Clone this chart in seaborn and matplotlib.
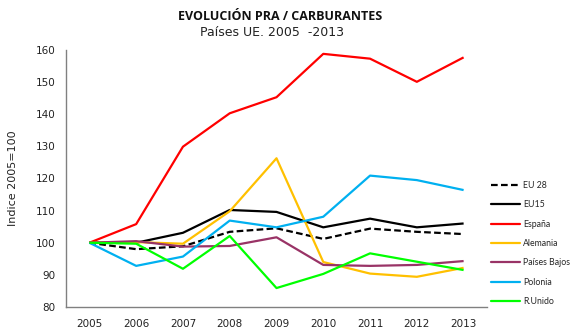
import matplotlib
matplotlib.use("Agg")
import matplotlib.pyplot as plt
import seaborn as sns
import pandas as pd
from matplotlib.lines import Line2D

years = ["2005", "2006", "2007", "2008", "2009", "2010", "2011", "2012", "2013"]

eu28 = [100, 98.0, 98.9, 103.4, 104.5, 101.2, 104.4, 103.4, 102.7]
eu15 = [100, 100.0, 103.1, 110.2, 109.6, 104.8, 107.5, 104.8, 106.0]
espana = [100, 105.8, 129.9, 140.3, 145.3, 158.8, 157.3, 150.1, 157.7]
alemania = [100, 100.2, 99.7, 109.8, 126.3, 94.0, 90.4, 89.4, 92.2]
paises_bajos = [100, 100.5, 98.8, 99.0, 101.7, 93.1, 92.8, 93.1, 94.3]
polonia = [100, 92.8, 95.7, 106.9, 104.8, 108.1, 120.9, 119.5, 116.4]
r_unido = [100, 99.7, 91.9, 102.1, 85.9, 90.3, 96.7, 94.1, 91.5]

series_names = ["EU 28", "EU15", "España", "Alemania", "Países Bajos", "Polonia", "R.Unido"]
series_values = [eu28, eu15, espana, alemania, paises_bajos, polonia, r_unido]
colors = ["#000000", "#000000", "#FF0000", "#FFC000", "#993366", "#00B0F0", "#00FF00"]

sns.set_theme(style="white")
plt.rcParams["font.family"] = ["DejaVu Sans"]

rows = []
for name, vals in zip(series_names, series_values):
    for i, (yr, v) in enumerate(zip(years, vals)):
        rows.append({"serie": name, "idx": i, "year": yr, "valor": v})
df = pd.DataFrame(rows)

fig = plt.figure(figsize=(5.8, 3.27), dpi=100)
ax = fig.add_axes([66 / 580, 1 - 307 / 327, (487 - 66) / 580, (307 - 50) / 327])

palette = dict(zip(series_names, colors))
dashes = {n: ((3, 1.5) if n == "EU 28" else "") for n in series_names}
sns.lineplot(data=df, x="idx", y="valor", hue="serie", style="serie",
             palette=palette, dashes=dashes, hue_order=series_names,
             style_order=series_names, linewidth=1.6, legend=False, ax=ax)
for line in ax.lines:
    line.set_solid_capstyle("butt")

ax.set_xlim(-0.5, len(years) - 0.5)
ax.set_ylim(80, 160)
ax.set_yticks(range(80, 161, 10))
ax.set_xticks(range(len(years)))
ax.set_xticklabels(years)
ax.set_xticks([i + 0.5 for i in range(-1, len(years))], minor=True)
ax.tick_params(axis="x", which="major", length=0, labelsize=7.5, pad=8.3, colors="#222222")
ax.tick_params(axis="x", which="minor", length=2.5, width=0.8, color="#808080", direction="out")
ax.tick_params(axis="y", which="major", length=3, width=0.8, color="#808080",
               direction="out", labelsize=7.5, pad=4.5, labelcolor="#222222")
for s in ["top", "right"]:
    ax.spines[s].set_visible(False)
for s in ["left", "bottom"]:
    ax.spines[s].set_color("#808080")
    ax.spines[s].set_linewidth(1.0)
ax.set_xlabel("")
ax.set_ylabel("")
ax.grid(False)

fig.text(13.5 / 580, 1 - 178 / 327, "Indice 2005=100", rotation=90, ha="center", va="center",
         fontsize=8, color="#222222")

handles = [Line2D([0], [0], color=c, lw=1.6,
                  linestyle=(0, (3, 1.5)) if n == "EU 28" else "-")
           for n, c in zip(series_names, colors)]
leg = fig.legend(handles, series_names, loc="center left",
                 bbox_to_anchor=(491 / 580, 1 - 243.5 / 327),
                 frameon=False, handlelength=3.3, handletextpad=0.35,
                 labelspacing=1.18, borderpad=0, borderaxespad=0,
                 prop={"family": "Lato", "size": 6.3})

fig.text(280 / 580, 1 - 17 / 327, "EVOLUCIÓN PRA / CARBURANTES", ha="center", va="center",
         fontsize=9, fontweight="bold", family="Open Sans", color="#111111")
fig.text(272 / 580, 1 - 32 / 327, "Países UE. 2005  -2013", ha="center", va="center",
         fontsize=9, family="DejaVu Sans", color="#222222")

fig.savefig("out.png", dpi=100)
